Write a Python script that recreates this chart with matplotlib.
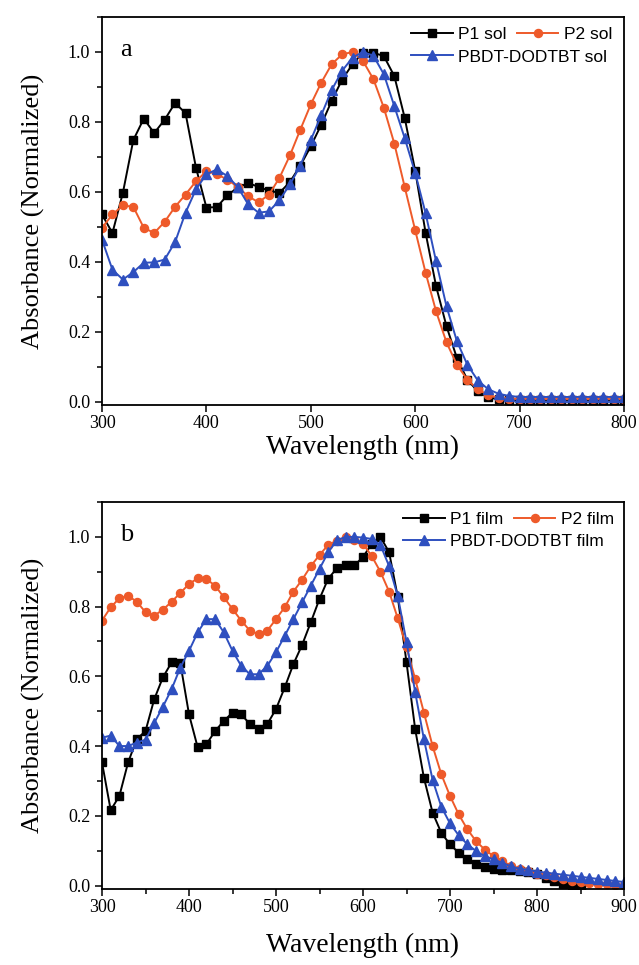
import numpy as np
import matplotlib
matplotlib.use("Agg")
import matplotlib.pyplot as plt
from matplotlib.ticker import MultipleLocator, FormatStrFormatter

plt.rcParams['font.family'] = ['Liberation Serif', 'DejaVu Serif']
plt.rcParams['mathtext.fontset'] = 'stix'

# --- dados ---
wl_sol = np.arange(300, 801, 10)
p1_sol = [0.535, 0.482, 0.597, 0.748, 0.809, 0.768, 0.806, 0.854, 0.825, 0.669,
          0.555, 0.556, 0.590, 0.612, 0.625, 0.614, 0.603, 0.597, 0.628, 0.675,
          0.730, 0.792, 0.860, 0.921, 0.965, 0.998, 0.998, 0.988, 0.931, 0.811,
          0.660, 0.482, 0.330, 0.215, 0.124, 0.062, 0.029, 0.012, 0.006, 0.004,
          0.003, 0.003, 0.003, 0.003, 0.003, 0.003, 0.003, 0.003, 0.003, 0.003, 0.003]
p2_sol = [0.497, 0.535, 0.561, 0.557, 0.497, 0.482, 0.514, 0.557, 0.592, 0.630,
          0.659, 0.650, 0.635, 0.614, 0.587, 0.570, 0.592, 0.640, 0.704, 0.778,
          0.850, 0.912, 0.965, 0.993, 1.000, 0.974, 0.922, 0.840, 0.738, 0.613,
          0.490, 0.368, 0.258, 0.169, 0.105, 0.062, 0.035, 0.018, 0.011, 0.008,
          0.007, 0.007, 0.007, 0.007, 0.007, 0.007, 0.007, 0.007, 0.007, 0.007, 0.007]
pb_sol = [0.463, 0.377, 0.349, 0.370, 0.397, 0.398, 0.406, 0.456, 0.540, 0.607,
          0.650, 0.664, 0.645, 0.614, 0.564, 0.540, 0.544, 0.576, 0.621, 0.675,
          0.748, 0.819, 0.891, 0.946, 0.984, 1.000, 0.989, 0.936, 0.845, 0.753,
          0.654, 0.538, 0.401, 0.272, 0.172, 0.105, 0.060, 0.035, 0.022, 0.016,
          0.013, 0.013, 0.013, 0.013, 0.013, 0.013, 0.013, 0.013, 0.013, 0.013, 0.013]

wl_film = np.arange(300, 901, 10)
wl_p1_film = np.arange(300, 851, 10)
p1_film = [0.353, 0.216, 0.257, 0.353, 0.420, 0.443, 0.534, 0.597, 0.640, 0.638,
           0.491, 0.396, 0.405, 0.443, 0.472, 0.496, 0.491, 0.463, 0.448, 0.463,
           0.506, 0.568, 0.635, 0.690, 0.755, 0.822, 0.880, 0.910, 0.918, 0.918,
           0.942, 0.980, 1.000, 0.956, 0.827, 0.640, 0.448, 0.309, 0.209, 0.151,
           0.118, 0.094, 0.075, 0.062, 0.053, 0.048, 0.045, 0.044, 0.042, 0.038,
           0.032, 0.022, 0.012, 0.005, 0.001, 0.000]
p2_film = [0.760, 0.798, 0.824, 0.831, 0.814, 0.784, 0.774, 0.791, 0.814, 0.839,
           0.865, 0.881, 0.879, 0.860, 0.827, 0.793, 0.760, 0.731, 0.721, 0.731,
           0.764, 0.798, 0.843, 0.877, 0.916, 0.948, 0.977, 0.989, 0.999, 0.992,
           0.980, 0.945, 0.900, 0.843, 0.766, 0.683, 0.592, 0.496, 0.400, 0.319,
           0.257, 0.204, 0.161, 0.127, 0.103, 0.084, 0.070, 0.057, 0.048, 0.041,
           0.034, 0.029, 0.023, 0.018, 0.014, 0.010, 0.007, 0.005, 0.003, 0.002, 0.001]
pb_film = [0.424, 0.430, 0.400, 0.400, 0.410, 0.418, 0.466, 0.513, 0.563, 0.625,
           0.673, 0.726, 0.764, 0.764, 0.726, 0.673, 0.630, 0.606, 0.606, 0.630,
           0.669, 0.716, 0.764, 0.812, 0.860, 0.908, 0.956, 0.990, 1.000, 1.000,
           0.998, 0.994, 0.977, 0.916, 0.830, 0.699, 0.554, 0.420, 0.303, 0.226,
           0.178, 0.144, 0.118, 0.099, 0.084, 0.075, 0.065, 0.055, 0.048, 0.045,
           0.040, 0.037, 0.034, 0.031, 0.028, 0.025, 0.022, 0.019, 0.016, 0.013, 0.010]

PRETO = 'black'
VERMELHO = '#EE5A2A'
AZUL = '#2E4FBF'
SANS = ['Liberation Sans', 'DejaVu Sans']


def desenhar(ax, x1, y1, x2, y2, x3, y3, nomes, letra, xmax, ancora_x):
    l1, = ax.plot(x1, y1, '-s', color=PRETO, lw=1.4, ms=5.6)
    l2, = ax.plot(x2, y2, '-o', color=VERMELHO, lw=1.4, ms=5.8)
    l3, = ax.plot(x3, y3, '-^', color=AZUL, lw=1.4, ms=6.5)
    ax.set_xlim(300, xmax)
    ax.set_ylim(-0.01, 1.1)
    ax.yaxis.set_major_locator(MultipleLocator(0.2))
    ax.yaxis.set_minor_locator(MultipleLocator(0.1))
    ax.yaxis.set_major_formatter(FormatStrFormatter('%.1f'))
    ax.xaxis.set_major_locator(MultipleLocator(100))
    ax.tick_params(which='major', direction='out', length=5, width=1.1, labelsize=13)
    ax.tick_params(axis='x', which='major', pad=2)
    ax.tick_params(which='minor', direction='out', length=3.5, width=1.1)
    for s in ax.spines.values():
        s.set_linewidth(1.3)
    ax.text(0.035, 0.9, letra, transform=ax.transAxes, fontsize=19)

    leg1 = ax.legend([l1, l2], nomes[:2], ncol=2, loc='center left',
                     bbox_to_anchor=(ancora_x, 0.954), frameon=False,
                     prop={'family': SANS, 'size': 12.5}, handlelength=2.4,
                     handletextpad=0.3, columnspacing=0.6, borderpad=0,
                     borderaxespad=0, numpoints=1)
    ax.add_artist(leg1)
    ax.legend([l3], nomes[2:], loc='center left', bbox_to_anchor=(ancora_x, 0.897),
              frameon=False, prop={'family': SANS, 'size': 12.5}, handlelength=2.4,
              handletextpad=0.3, borderpad=0, borderaxespad=0, numpoints=1)
    ax.set_ylabel('Absorbance (Normalized)', fontsize=19)
    ax.set_xlabel('Wavelength (nm)', fontsize=20)


fig = plt.figure(figsize=(6.39, 9.65), dpi=100)
ax_a = fig.add_axes([102 / 639, 1 - 405 / 965, 522 / 639, 388 / 965])
ax_b = fig.add_axes([102 / 639, 1 - 889 / 965, 522 / 639, 387 / 965])

desenhar(ax_a, wl_sol, p1_sol, wl_sol, p2_sol, wl_sol, pb_sol,
         ['P1 sol', 'P2 sol', 'PBDT-DODTBT sol'], 'a', 800, 0.592)
desenhar(ax_b, wl_p1_film, p1_film, wl_film, p2_film, wl_film, pb_film,
         ['P1 film', 'P2 film', 'PBDT-DODTBT film'], 'b', 900, 0.577)
ax_b.xaxis.set_minor_locator(MultipleLocator(50))

ax_a.xaxis.labelpad = 2
ax_b.xaxis.labelpad = 12
ax_a.yaxis.set_label_coords(-0.11, 0.5)
ax_b.yaxis.set_label_coords(-0.11, 0.5)

fig.savefig('out.png', dpi=100)
